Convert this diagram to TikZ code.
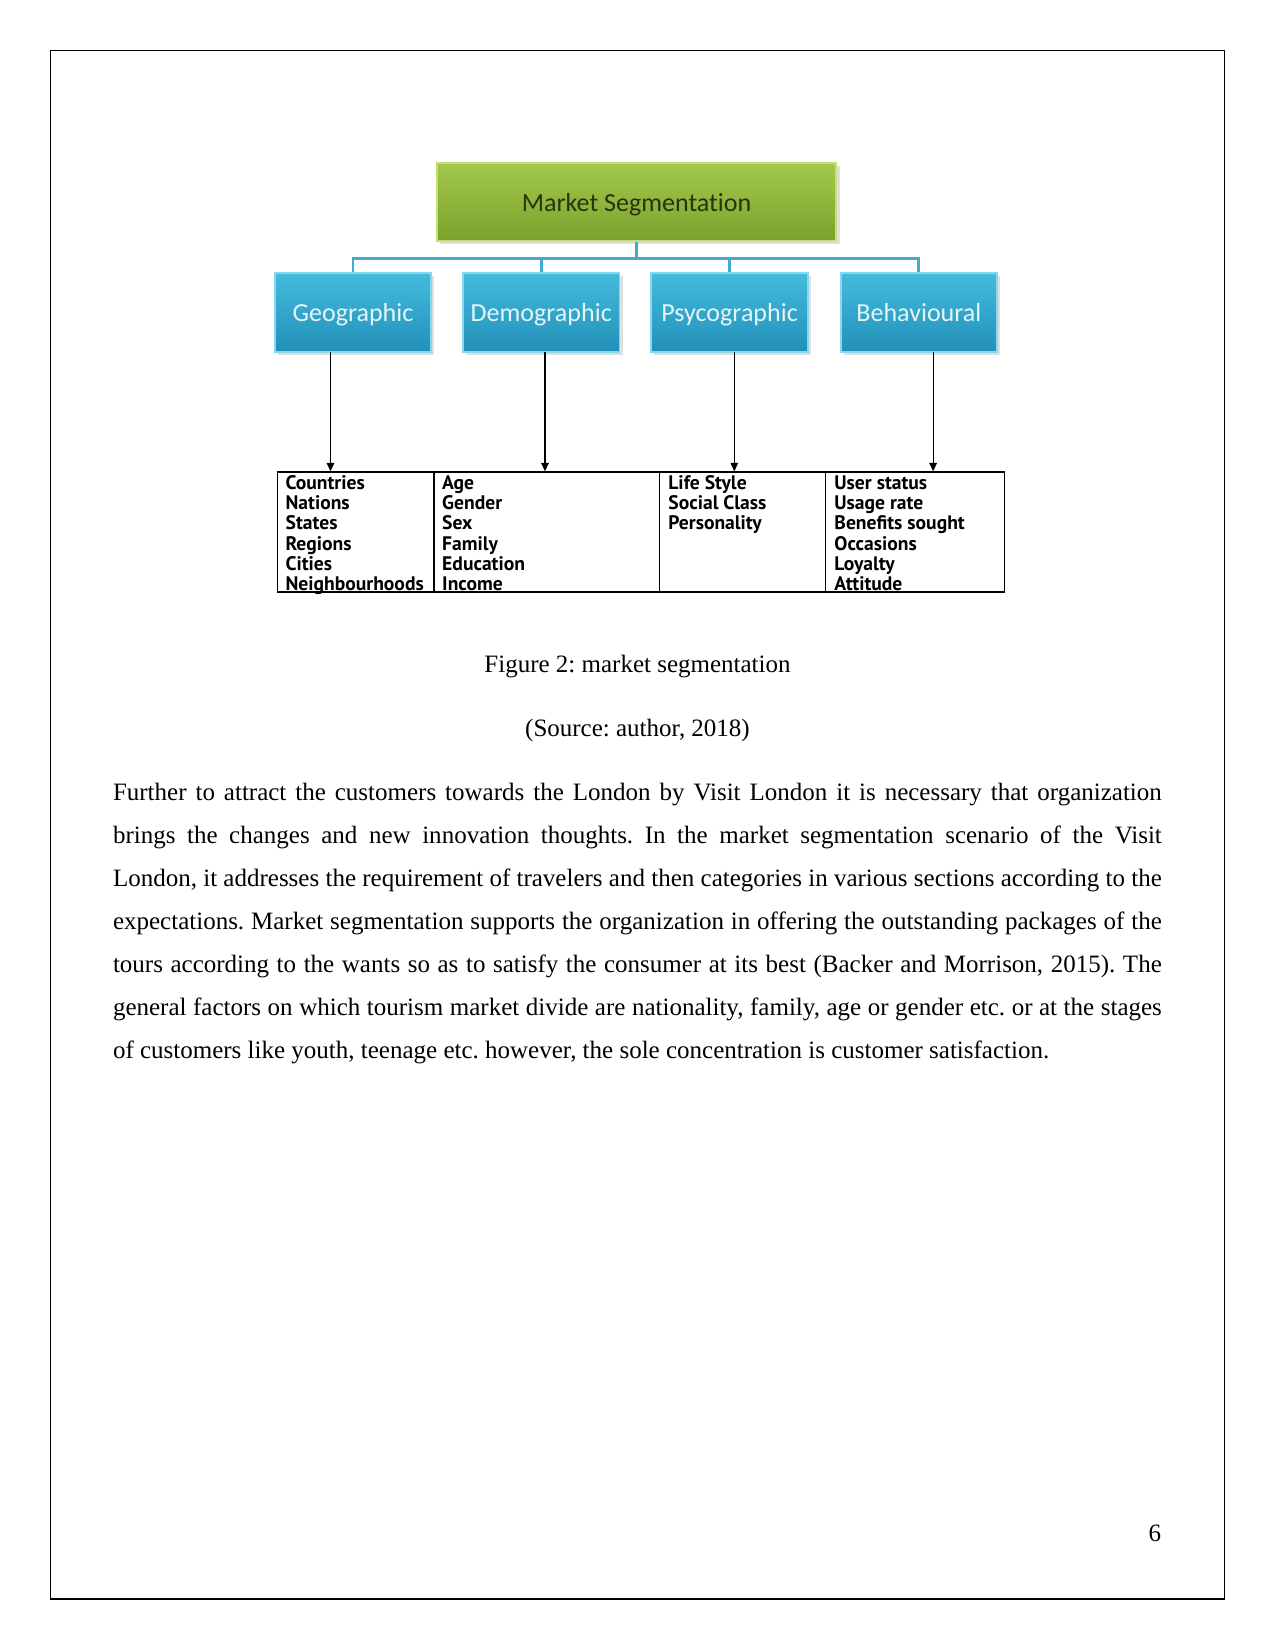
\documentclass[tikz,border=0pt]{standalone}
\usepackage{fontspec}
\setmainfont{Liberation Serif}
\newfontfamily\calib[Ligatures=NoCommon]{Carlito}
\newfontfamily\tabf{PT Sans}
\usetikzlibrary{shadows,arrows.meta}
\definecolor{grtop}{HTML}{A3C84A}
\definecolor{grbot}{HTML}{7AA22C}
\definecolor{grline}{HTML}{C6DF76}
\definecolor{grtext}{HTML}{28330F}
\definecolor{bltop}{HTML}{44BCDD}
\definecolor{blbot}{HTML}{2290B8}
\definecolor{blline}{HTML}{86D8EE}
\definecolor{bltext}{HTML}{E6F4FA}
\definecolor{conncol}{HTML}{44A8D0}
\tikzset{
  greenbox/.style={draw=grline, line width=0.9pt, top color=grtop, bottom color=grbot,
    minimum width=191.9pt, minimum height=37.4pt, inner sep=0pt,
    text height=10pt, text depth=1.2pt,
    font=\calib\fontsize{12.5}{14}\selectfont, text=grtext,
    drop shadow={opacity=0.25, shadow xshift=1.5pt, shadow yshift=-1.5pt}},
  bluebox/.style={draw=blline, line width=0.9pt, top color=bltop, bottom color=blbot,
    minimum width=75.2pt, minimum height=37.9pt, inner sep=0pt,
    text height=10pt, text depth=1.2pt,
    font=\calib\fontsize{12.5}{14}\selectfont, text=bltext,
    drop shadow={opacity=0.25, shadow xshift=1.5pt, shadow yshift=-1.5pt}},
  conn/.style={draw=conncol, line width=1.4pt},
  arr/.style={draw=black, line width=0.5pt, -{Triangle[length=4pt,width=3.6pt]}},
  cell/.style={draw=black, line width=0.6pt, inner sep=0pt, anchor=north west},
  cellitem/.style={anchor=base west, inner sep=0pt, font=\tabf\bfseries\fontsize{9.4}{10}\selectfont},
  bodyline/.style={anchor=base west, inner sep=0pt, font=\fontsize{12}{14}\selectfont},
  plain/.style={inner sep=0pt, font=\fontsize{12}{14}\selectfont}
}
\frenchspacing
\begin{document}
\begin{tikzpicture}[x=0.48pt,y=-0.48pt]
\useasboundingbox (0,0) rectangle (1275,1650);
\draw[line width=0.6pt] (50.5,50.5) rectangle (1224.5,1599);

% boxes
\node[greenbox] (ms) at (636.5,202.3) {Market Segmentation};
\node[bluebox] (geo) at (353,312.7) {Geographic};
\node[bluebox] (demo) at (541.2,312.7) {Demographic};
\node[bluebox] (psy) at (729.6,312.7) {Psycographic};
\node[bluebox] (beh) at (918.9,312.7) {Behavioural};

% bus connectors
\coordinate (bus) at (636.5,258.5);
\draw[conn] (ms.south) -- (bus);
\draw[conn] (geo.north) |- (bus) -| (beh.north);
\draw[conn] (demo.north) -- (demo.north |- bus);
\draw[conn] (psy.north) -- (psy.north |- bus);

% table cells
\node[cell, minimum width=75.2pt, minimum height=57.6pt] (c1) at (276.7,471.3) {};
\node[cell, minimum width=108.1pt, minimum height=57.6pt] (c2) at (433.4,471.3) {};
\node[cell, minimum width=79.8pt, minimum height=57.6pt] (c3) at (658.6,471.3) {};
\node[cell, minimum width=85.8pt, minimum height=57.6pt] (c4) at (824.8,471.3) {};

% arrows
\coordinate (a1) at (330.5,352.4);
\coordinate (a2) at (545,352.4);
\coordinate (a3) at (734.3,352.4);
\coordinate (a4) at (933.1,352.4);
\draw[arr] (a1) -- (a1 |- c1.north);
\draw[arr] (a2) -- (a2 |- c2.north);
\draw[arr] (a3) -- (a3 |- c3.north);
\draw[arr] (a4) -- (a4 |- c4.north);

% table text
\foreach \t [count=\i from 0] in {Countries,Nations,States,Regions,Cities,Neighbourhoods}
  \node[cellitem] (ga\i) at (285.2,489.4+20.2*\i) {\t};
\foreach \t [count=\i from 0] in {Age,Gender,Sex,Family,Education,Income}
  \node[cellitem] (da\i) at (441.8,489.4+20.2*\i) {\t};
\foreach \t [count=\i from 0] in {Life Style,Social Class,Personality}
  \node[cellitem] (pa\i) at (668,489.4+20.2*\i) {\t};
\foreach \t [count=\i from 0] in {User status,Usage rate,Benefits sought,Occasions,Loyalty,Attitude}
  \node[cellitem] (ba\i) at (834,489.4+20.2*\i) {\t};

% captions
\node[plain, anchor=base] (cap) at (637.5,672) {Figure 2: market segmentation};
\node[plain, anchor=base] (src) at (637.5,736) {(Source: author, 2018)};

% paragraph
\node[bodyline] (l1) at (112.6,800.2) {\makebox[503.4pt][s]{Further to attract the customers towards the London by Visit London it is necessary that organization}};
\node[bodyline] (l2) at (112.6,843.3) {\makebox[503.4pt][s]{brings the changes and new innovation thoughts. In the market segmentation scenario of the Visit}};
\node[bodyline] (l3) at (112.6,886.4) {\makebox[503.4pt][s]{London, it addresses the requirement of travelers and then categories in various sections according to the}};
\node[bodyline] (l4) at (112.6,929.5) {\makebox[503.4pt][s]{expectations. Market segmentation supports the organization in offering the outstanding packages of the}};
\node[bodyline] (l5) at (112.6,972.6) {\makebox[503.4pt][s]{tours according to the wants so as to satisfy the consumer at its best (Backer and Morrison, 2015). The}};
\node[bodyline] (l6) at (112.6,1015.7) {\makebox[503.4pt][s]{general factors on which tourism market divide are nationality, family, age or gender etc. or at the stages}};
\node[bodyline] (l7) at (112.6,1058.8) {of customers like youth, teenage etc. however, the sole concentration is customer satisfaction.};

% page number
\node[plain, anchor=base east] (pg) at (1161.4,1541) {6};
\end{tikzpicture}
\end{document}
